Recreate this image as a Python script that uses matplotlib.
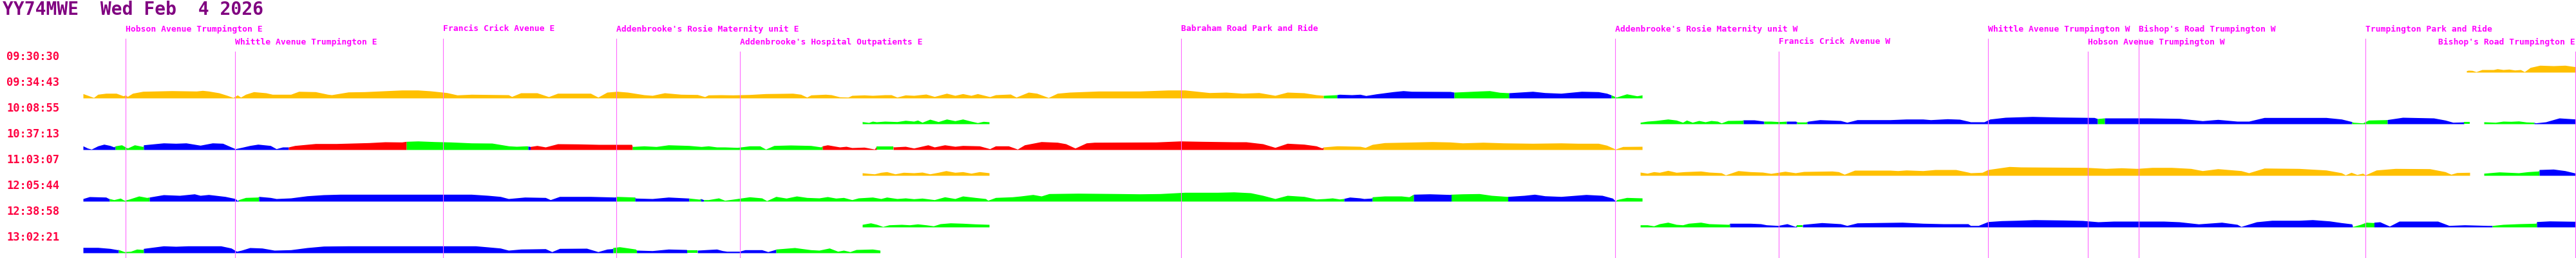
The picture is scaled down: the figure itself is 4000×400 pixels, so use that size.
import numpy as np
import matplotlib
matplotlib.use('Agg')
import matplotlib.pyplot as plt

NAN = np.nan

title = 'YY74MWE  Wed Feb  4 2026'

# stops along the route (distance in px-units from left edge)
stop_names = ['Hobson Avenue Trumpington E', 'Whittle Avenue Trumpington E',
              'Francis Crick Avenue E', "Addenbrooke's Rosie Maternity unit E",
              "Addenbrooke's Hospital Outpatients E", 'Babraham Road Park and Ride',
              "Addenbrooke's Rosie Maternity unit W", 'Francis Crick Avenue W',
              'Whittle Avenue Trumpington W', 'Hobson Avenue Trumpington W',
              "Bishop's Road Trumpington W", 'Trumpington Park and Ride',
              "Bishop's Road Trumpington E"]
stop_dist = [195, 365, 688, 957, 1149, 1834, 2508, 2762, 3087, 3242, 3321, 3673, 3999]
stop_level = [0, 1, 0, 0, 1, 0, 0, 1, 0, 1, 0, 0, 1]

trip_times = ['09:30:30', '09:34:43', '10:08:55', '10:37:13',
              '11:03:07', '12:05:44', '12:38:58', '13:02:21']

# speed traces, one per row (dist, height), NaN = no data
row0_d = [3830, 3833, 3839, 3845, 3854, 3872, 3878, 3887, 3896, 3905, 3914, 3920,
          3929, 3944, 3965, 3983, 4000]
row0_h = [2.3, 3, 2.7, 0.7, 4, 4, 5.3, 4, 4.7, 3.3, 4, 0.7, 7.3, 10.7, 10, 10.7, 8.3]
row0_cx = [3830, 4000]
row0_cc = 'Y'

row1_d = [129, 145.5, 152, 164.6, 180.6, 191.4, 195.3, 197.8, 206, 222, 266.7, 305,
          314.5, 324, 340, 352.8, 362, 368.7, 373.8, 381.5, 394, 413, 423, 451.6,
          464, 490, 509, 515, 541, 566, 624, 649, 668.5, 694, 710, 732, 789.6, 794.7,
          808.8, 834, 852, 866, 917, 928.7, 942.7, 958.6, 974.6, 1000, 1013, 1032,
          1057.5, 1083, 1094.5,
          1100, 1119, 1138, 1164, 1189, 1212, 1231, 1243.5, 1253, 1259.4, 1282, 1291,
          1304, 1317, 1323, 1342, 1355, 1374, 1384, 1393, 1406, 1419, 1438, 1451,
          1470, 1483, 1495, 1508, 1518, 1537, 1546, 1569, 1578, 1597, 1610, 1628,
          1642, 1661, 1706, 1770, 1814, 1840, 1878, 1904, 1929, 1955, 1980, 1999,
          2025, 2044, 2055, 2076,
          2080, 2099, 2112, 2121, 2137, 2163, 2179, 2192, 2252, 2258, 2297, 2313,
          2329, 2343, 2380, 2399, 2424, 2456, 2482, 2495, 2502, 2510, 2526, 2542, 2550]
row1_h = [6.7, 0.7, 5.7, 7.3, 7.3, 3.3, 4.7, 2.3, 7.3, 10.3, 11.3, 10.7,
          11.7, 10.7, 8, 4, 0.7, 4.7, 1.3, 5.7, 9.7, 8, 5.7, 5.7,
          10.3, 9.7, 5.7, 5, 9.3, 9.7, 12.3, 12.3, 11, 8.3, 4.7, 5.7, 5, 2.3,
          8, 8, 2, 7.3, 7.3, 1.3, 9, 10.3, 9, 5, 4, 8,
          5.7, 5.3, 2,
          4.7, 5, 4.7, 5.3, 6.7, 7, 7.3, 5.7, 1.3, 4.7, 5.7, 5,
          1.7, 1.3, 4, 4.7, 4, 5, 5, 1.3, 4.7, 4, 6, 2.3,
          7.3, 4, 6.7, 4, 6.7, 2, 5, 6, 1.3, 9, 7.3, 0.7,
          7.3, 9, 10.7, 10.7, 12.3, 12.3, 8.3, 9, 7.3, 8.3, 4, 9,
          8, 5, 4, 5,
          5.7, 5, 5.7, 3.7, 6.3, 9.7, 11.3, 10.3, 10, 9, 10.7, 11.3,
          8.7, 8, 10.3, 8.3, 7.3, 10.3, 9.7, 7.3, 4.7, 1.3, 6.3, 3.3, 4.7]
row1_cx = [129, 2055, 2076, 2258, 2343, 2502, 2550]
row1_cc = 'YGBGBG'

row2_d = [1339, 1349, 1355, 1361, 1374, 1393, 1406, 1419, 1425, 1432, 1444, 1457,
          1470, 1483, 1495, 1508, 1518, 1527, 1536, 1537,
          2547, 2558, 2571, 2590, 2603, 2613, 2619, 2628, 2638, 2648, 2657, 2667,
          2673, 2683, 2705, 2707, 2724, 2739, 2750, 2762, 2776, 2788, 2792, 2804,
          2808, 2826, 2858, 2868, 2884, 2935, 2960, 2986, 2998, 3024, 3043, 3056,
          3060, 3081, 3090, 3114, 3156, 3198, 3252, 3257, 3268, 3336, 3384, 3408,
          3420, 3444, 3474, 3492, 3516, 3612, 3636, 3652, 3654, 3669, 3678, 3706,
          3731, 3779, 3797, 3809, 3824, 3826, 3835, 3836,
          3857, 3875, 3887, 3899, 3911, 3923, 3935, 3937, 3953, 3974, 4000]
row2_h = [3.3, 2, 4, 3, 4, 3.3, 5.3, 4, 5.7, 2.3, 7, 3.3,
          7.3, 4.7, 7.3, 4, 1.7, 3.7, 3, NAN,
          2.3, 4, 5, 7.3, 5.7, 2.3, 5.7, 2.3, 5, 3, 5, 4,
          1.3, 5, 5.3, 6, 6, 4, 4, 3.3, 4, 4, 2.7, 2.7,
          4, 6.3, 5, 2.3, 6.3, 6.3, 7.3, 7.3, 6.3, 7.7, 7, 4,
          3, 3, 7.3, 10, 11.3, 10.3, 9.7, 8, 9, 9, 8.3, 6,
          4.7, 6.7, 4, 4, 9.7, 9.7, 7.3, 3.3, 2.3, 1.3, 5.7, 6.3,
          10, 9, 5.7, 2.3, 2.7, 3, 3, NAN,
          3, 2.3, 4, 3.7, 4.3, 2.7, 2.3, 1.3, 3, 9, 7.3]
row2_cx = [1339, 2707, 2739, 2774, 2790, 2806, 3257, 3268, 3652, 3707, 3826, 3935, 4000]
row2_cc = 'GBGBGBGBGBGB'

row3_d = [129, 136, 142, 152, 161.5, 171, 177, 179, 189, 198, 209, 222, 223, 254,
          273, 289, 311, 330, 346, 359, 365.5, 375, 388, 400.6, 420, 429, 439, 448,
          458, 490, 522, 573, 598, 624, 631, 649, 675, 700, 732, 764, 790, 802, 818,
          823.5, 834, 847, 866, 898, 930, 981, 982, 1000, 1019, 1038, 1070, 1089,
          1100, 1113, 1125.5, 1145, 1164, 1180, 1189, 1202, 1227.5, 1259, 1275, 1277,
          1285, 1304, 1314, 1323, 1342, 1358, 1361, 1387, 1388, 1406, 1419, 1441,
          1451, 1467, 1483, 1495, 1521, 1537, 1546, 1566, 1580, 1591, 1617, 1642,
          1655, 1669.5, 1687, 1699.5, 1795, 1833, 1865, 1916, 1935, 1961, 1980,
          1999, 2025, 2044, 2053, 2055, 2076,
          2080, 2112, 2120, 2131, 2150, 2179, 2223.5, 2252, 2271, 2303, 2335, 2380,
          2424, 2450, 2482, 2495, 2508.6, 2520, 2550]
row3_h = [5.7, 2.3, 0.7, 5.7, 8.3, 6.3, 4, 5.7, 7.3, 2.3, 7.3, 4.7, 7.3, 10.3,
          9.7, 10.3, 6.7, 10.3, 9.7, 4, 1.3, 3.3, 6.3, 8.3, 6.3, 1.3, 4, 4,
          6.3, 9.3, 9.3, 10.7, 12, 11.7, 12.7, 13.3, 12.3, 11.7, 10.3, 10, 5.7, 5, 5.7,
          4.7, 6.3, 4, 9, 8.7, 8, 8, 4.7, 5.7, 4.7, 7.3, 6.3, 4.7,
          5.7, 4, 4, 3.3, 5.7, 5.7, 0.7, 6.3, 7, 6.3, 4, 5.7,
          7.3, 4, 5, 3, 3.7, 0.7, 5, 5, 4, 5, 2.3, 7.3,
          4, 7.3, 5, 6.3, 5.7, 1.3, 5.7, 5.7, 0.7, 7.3, 12.3, 11.3,
          9, 2.3, 10.3, 11.3, 11.7, 13.3, 12.7, 12, 12, 9, 3.3,
          9.7, 8.3, 5.7, 2.3, 4, 5.7,
          5.7, 5, 3.3, 8, 10.7, 11.3, 12.3, 11.7, 10.3, 11.3, 10.3, 9.7,
          10.3, 9.7, 9.7, 6.7, 0.7, 4.7, 5]
row3_cx = [129, 179, 223, 448, 631, 820, 823.5, 982, 1277, 1361, 1387, 2055, 2550]
row3_cc = 'BGBRGBRGRGRY'

row4_d = [1339, 1349, 1358, 1368, 1377, 1390, 1403, 1419, 1432, 1444, 1457, 1469,
          1483, 1495, 1508, 1521, 1536, 1537,
          2547, 2558, 2568, 2577, 2590, 2603, 2616, 2641, 2654, 2673, 2679.5, 2699,
          2718, 2737, 2750, 2772, 2788, 2801, 2845, 2855, 2864, 2880, 2935, 2947,
          2960, 2986, 3005, 3037, 3056,
          3060, 3078, 3087, 3120, 3138, 3240, 3270, 3294, 3318, 3342, 3372, 3402,
          3420, 3444, 3480, 3492, 3516, 3570, 3612, 3636, 3642, 3651, 3660, 3669,
          3673, 3690, 3719.5, 3773, 3797, 3806, 3815, 3835, 3836,
          3857, 3881, 3911, 3926, 3942, 3943, 3965, 3983, 4000]
row4_h = [4, 3, 2.3, 4.7, 5.7, 2.3, 4.7, 4, 5, 2.3, 4.7, 7.3,
          4.7, 5.7, 3.3, 5.7, 4, NAN,
          5, 3.3, 5.7, 4.7, 7.7, 4.7, 5.7, 6.7, 5, 4, 0.7, 7.3,
          5.7, 5, 3, 6.3, 4, 6, 6.7, 5.7, 1.7, 8, 8, 7.3,
          8.3, 7.3, 9, 9, 5,
          4, 4.7, 9, 13.7, 13, 12.3, 10.7, 11.7, 10.7, 12.3, 12.3, 10.7,
          7.3, 10.3, 7.3, 4, 11.3, 10.7, 8.3, 4, 0.7, 4.7, 1.3, 3.3,
          0.7, 8.3, 10.7, 10.3, 5.7, 1.7, 4.3, 4.7, NAN,
          3.3, 5.3, 4, 5.7, 6.7, 9, 9.7, 7.3, 3.3]
row4_cx = [1339, 3850, 3943, 4000]
row4_cc = 'YGB'

row5_d = [129, 139, 164.6, 169, 170, 177, 187, 193, 200, 215.7, 228, 232, 254, 279,
          302, 311, 324, 349.6, 365.5, 368.7, 370.6, 381.5, 400.6, 402, 420, 429,
          451.6, 477, 502.6, 528, 605, 732, 758, 777, 789.6, 815, 847, 854.7, 869,
          917, 955.5, 957, 986, 987, 1013, 1038, 1064, 1070, 1086, 1088, 1092.6,
          1100, 1116, 1125.5, 1138, 1164, 1183, 1190.6, 1205, 1221, 1237, 1253, 1272,
          1285, 1298, 1310, 1323, 1333, 1355, 1368, 1377, 1393, 1406, 1419, 1432,
          1451, 1467, 1483, 1495, 1514.5, 1530.5, 1534, 1546, 1572, 1585, 1604, 1617,
          1629, 1674, 1738, 1770, 1801.5, 1840, 1891, 1916, 1942, 1961, 1980, 1999,
          2025, 2044, 2057, 2069,
          2080, 2086, 2096, 2112, 2118, 2130, 2131, 2150, 2176, 2188, 2195, 2220,
          2252, 2253.5, 2271, 2297, 2316, 2340, 2341.5, 2367, 2383, 2399, 2424, 2463,
          2488, 2504, 2508.6, 2510.5, 2526, 2550]
row5_h = [4, 7, 6.3, 4, 4, 2.3, 4.7, 1.3, 3, 8, 5.7, 6.3, 10, 9,
          11.3, 9, 10.3, 7.3, 4, 0.7, 2.3, 5.7, 6.3, 7.3, 5.7, 4,
          5, 8.3, 10, 10.7, 10.7, 10.7, 9, 7.3, 4, 6.3, 5.7, 2.3, 7.3,
          7.3, 6.3, 7.3, 6.3, 4.7, 4, 6.3, 5, 4.7, 3, 4, 2.3,
          2.3, 5, 1.3, 3, 6.7, 5, 0.7, 7.3, 4.7, 8, 5.7, 5,
          7, 4.7, 5.7, 2.3, 5, 6.3, 4, 6.3, 4, 5, 3.7, 4.7,
          2.3, 6.7, 4, 8, 5.7, 4, 1.3, 5.7, 6.7, 8, 10.3, 8,
          11.7, 12.3, 11.7, 11.3, 11.7, 13.7, 13.7, 14.3, 13, 9, 4, 9,
          7.3, 3.3, 4, 5,
          3.3, 4, 6.3, 5, 4, 4.7, 6.7, 8, 8, 6.7, 10.7, 11.3,
          10.3, 10.7, 11.3, 11.7, 9, 7.3, 7.3, 9, 10.7, 8.3, 7.3, 10.3,
          9, 4.7, 0.3, 2.3, 5.7, 5]
row5_cx = [129, 170, 232, 370.6, 402, 957, 986, 1070, 1088, 1092.6, 2087, 2131, 2195,
           2253.5, 2341.5, 2510, 2550]
row5_cc = 'BGBGBGBGBGBGBGBG'

row6_d = [1339, 1352, 1361.5, 1371, 1380.6, 1400, 1412.5, 1425, 1438, 1449.5, 1460,
          1476, 1495, 1514.5, 1536, 1537,
          2547, 2558, 2568, 2577, 2590, 2603, 2613, 2622, 2641, 2654, 2684.6, 2686,
          2718, 2734, 2743, 2761, 2775, 2788, 2790, 2799, 2800, 2829, 2858, 2868,
          2884, 2954, 2986, 3017.5, 3056,
          3060, 3072, 3087, 3108, 3132, 3159, 3204, 3234, 3258, 3282, 3360, 3384,
          3414, 3450, 3474, 3480, 3504, 3528, 3570, 3591, 3617.5, 3635.5, 3652,
          3653.5, 3665.5, 3674.5, 3686, 3686.5, 3695.5, 3710.5, 3725.5, 3785.4, 3803,
          3827, 3863, 3870.6, 3887, 3911, 3938, 3939, 3959, 4000]
row6_h = [4, 6.3, 4, 0.7, 3.3, 4, 3.3, 4.7, 3.3, 1.7, 5,
          6.3, 5.7, 4.7, 4, NAN,
          3.3, 3.3, 1.7, 5, 7.3, 4, 3.3, 5.7, 7.3, 5, 4, 5.7,
          5.7, 5, 3.3, 2.3, 5, 0.7, 3.3, 3.3, 4, 6.7, 5, 2.3,
          6.3, 7.3, 5.7, 5, 5,
          2.3, 2.3, 8.3, 9.7, 10.3, 11.3, 10.7, 10, 8, 9, 9, 8,
          4.7, 7.3, 4, 0.7, 8, 10.3, 10.3, 11.3, 9.3, 6.7, 4.7,
          0.7, 4, 7.3, 6.7, 7.3, 8, 1.3, 9, 9, 2.3,
          3.3, 2.3, 2.3, 4, 5, 5.7, 8.3, 9.3, 8.7]
row6_cx = [1339, 2686, 2790, 2799, 3653, 3686.5, 3870, 3939, 4000]
row6_cc = 'GBGBGBGB'

row7_d = [129, 152, 171, 182.5, 184, 193, 203, 212.5, 222, 223, 254, 273, 292, 343,
          359, 367.5, 375, 388, 407, 426, 451.6, 477, 502.6, 541, 605, 738.6, 758,
          777, 789.6, 809, 847, 857, 869, 911, 928.7, 942.7, 951, 952, 962, 987,
          988.6, 1013, 1038, 1066, 1067, 1083,
          1100, 1113, 1122, 1128.7, 1148, 1157, 1183, 1192.5, 1204, 1205, 1234, 1259,
          1272, 1288, 1301, 1310, 1320, 1329.6, 1355, 1366.6]
row7_h = [8.3, 8.3, 6.7, 4.7, 5, 1.7, 2.3, 5.7, 5, 6.7, 10.7, 10, 10.7, 10.7,
          7.3, 2.3, 4, 8, 7.3, 4, 4.7, 8, 10.3, 10.7, 10.7, 10.7, 9,
          7.3, 4, 5.7, 6.3, 1.7, 6.7, 7, 1.7, 5.7, 6.3, 8, 9.3, 5.7,
          4, 3.3, 5.7, 5, 4, 4,
          5, 5.7, 3.3, 2.3, 2.3, 4.7, 4.7, 1.7, 5, 5.7, 8, 4.7,
          4, 7.3, 2.3, 4, 1.7, 5, 5.7, 4]
row7_cx = [129, 184, 223, 952, 988.6, 1067, 1083, 1205, 1367]
row7_cc = 'BGBGBGBG'

COLORS = {'Y': '#ffc000', 'G': '#00ff00', 'B': '#0000ff', 'R': '#ff0000'}

FIRST_BASE = 112
ROW_STEP = 40


def draw_trace(ax, base, dist, height, cx, cc):
    dist = np.array(dist, float)
    height = np.array(height, float)
    breaks = np.where(np.isnan(height))[0]
    for idx in np.split(np.arange(len(dist)), breaks):
        idx = idx[~np.isnan(height[idx])]
        if len(idx) < 2:
            continue
        px, ph = dist[idx], height[idx]
        for a, b, c in zip(cx[:-1], cx[1:], cc):
            lo, hi = max(a, px[0]), min(b, px[-1])
            if hi <= lo:
                continue
            inner = (px > lo) & (px < hi)
            sx = np.concatenate([[lo], px[inner], [hi]])
            sh = np.interp(sx, px, ph)
            ax.fill_between(sx, base, base - sh, color=COLORS[c], lw=0,
                            antialiased=False, zorder=2)


def main():
    fig = plt.figure(figsize=(40, 4), dpi=100)
    ax = fig.add_axes([0, 0, 1, 1])
    ax.set_xlim(0, 4000)
    ax.set_ylim(400, 0)
    ax.axis('off')

    mono = 'DejaVu Sans Mono'
    ax.text(4, 15, title, fontsize=20.2, family=mono, fontweight='bold',
            color='#800080', va='center', ha='left')

    last = len(stop_names) - 1
    for i, (name, d, lev) in enumerate(zip(stop_names, stop_dist, stop_level)):
        # the last label would run off the edge, so it ends at its line
        ax.text(d, 45 + 20 * lev, name, fontsize=9.4, family=mono,
                fontweight='bold', color='#ff00ff', va='center',
                ha='right' if i == last else 'left')
        ax.plot([d, d], [60 + 20 * lev, 400], color='#ff66ff', lw=0.8,
                zorder=3)

    for i, t in enumerate(trip_times):
        ax.text(10, FIRST_BASE + ROW_STEP * i - 24, t, fontsize=12.3,
                family=mono, fontweight='bold', color='#ff0040',
                va='center', ha='left')

    rows = [(row0_d, row0_h, row0_cx, row0_cc), (row1_d, row1_h, row1_cx, row1_cc),
            (row2_d, row2_h, row2_cx, row2_cc), (row3_d, row3_h, row3_cx, row3_cc),
            (row4_d, row4_h, row4_cx, row4_cc), (row5_d, row5_h, row5_cx, row5_cc),
            (row6_d, row6_h, row6_cx, row6_cc), (row7_d, row7_h, row7_cx, row7_cc)]
    for i, (d, h, cx, cc) in enumerate(rows):
        draw_trace(ax, FIRST_BASE + ROW_STEP * i, d, h, cx, cc)

    fig.savefig('out.png', dpi=100, facecolor='white')


if __name__ == '__main__':
    main()
